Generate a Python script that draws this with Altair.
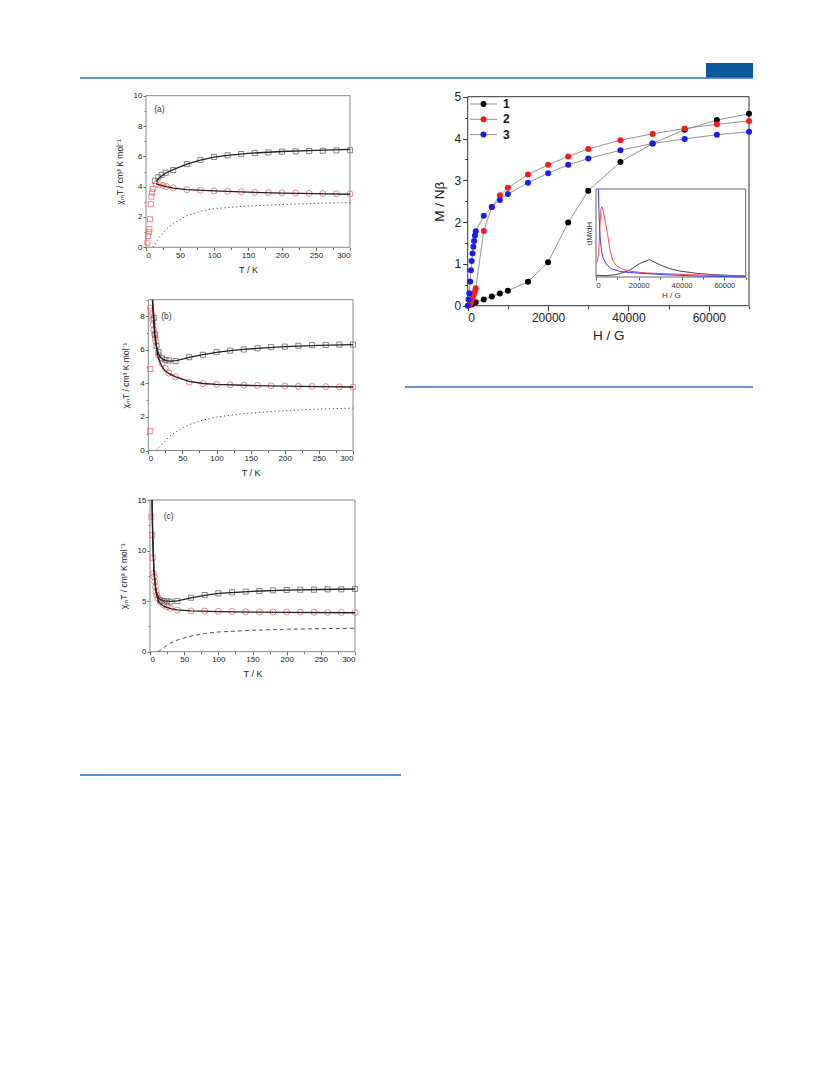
import altair as alt
import pandas as pd

FONT = "Liberation Sans"
W, H = 817, 1075

# ---------------- panel (a) ----------------
a_sq_T = [13, 18, 23, 29, 40, 60, 80, 100, 120, 140, 160, 180, 200, 220, 240, 260, 280, 300]
a_sq_v = [4.39, 4.62, 4.77, 4.92, 5.1, 5.49, 5.76, 5.96, 6.07, 6.15, 6.22, 6.26, 6.31, 6.33, 6.35, 6.37, 6.39, 6.4]
a_rsq_T = [2, 3, 4, 5, 6, 7, 8, 9, 10]
a_rsq_v = [0.3, 0.75, 1.0, 1.2, 1.85, 2.84, 3.34, 3.62, 3.85]
a_ci_T = [15, 20, 25, 30, 40, 60, 80, 100, 120, 140, 160, 180, 200, 220, 240, 260, 280, 300]
a_ci_v = [4.17, 4.13, 4.07, 4.0, 3.92, 3.8, 3.76, 3.72, 3.69, 3.66, 3.63, 3.61, 3.6, 3.58, 3.56, 3.55, 3.53, 3.52]
a_fit1_T = [15, 20, 30, 40, 60, 80, 100, 120, 150, 200, 250, 300]
a_fit1_v = [4.35, 4.6, 4.92, 5.12, 5.48, 5.75, 5.95, 6.07, 6.2, 6.32, 6.4, 6.46]
a_fit2_T = [15, 20, 30, 40, 60, 100, 150, 200, 250, 300]
a_fit2_v = [4.18, 4.12, 4.0, 3.9, 3.8, 3.72, 3.64, 3.58, 3.54, 3.5]
a_dot_T = [10, 15, 20, 30, 40, 60, 80, 100, 140, 200, 250, 300]
a_dot_v = [0, 0.35, 0.68, 1.2, 1.58, 2.08, 2.38, 2.55, 2.7, 2.82, 2.9, 2.95]

# ---------------- panel (b) ----------------
b_sq_T = [8, 10, 12, 15, 20, 25, 30, 40, 60, 80, 100, 120, 140, 160, 180, 200, 220, 240, 260, 280, 300]
b_sq_v = [7.9, 6.9, 6.25, 5.87, 5.5, 5.41, 5.37, 5.34, 5.57, 5.71, 5.87, 5.96, 6.03, 6.1, 6.17, 6.2, 6.25, 6.29, 6.3, 6.32, 6.32]
b_rsq_T = [3, 3]
b_rsq_v = [1.15, 4.87]
b_ci_T = [3, 4, 5, 6, 7, 8, 9, 10, 11, 15, 20, 25, 30, 40, 60, 80, 100, 120, 140, 160, 180, 200, 220, 240, 260, 280, 300]
b_ci_v = [8.5, 8.3, 8.1, 7.8, 7.5, 7.2, 6.95, 6.7, 6.5, 5.7, 5.2, 4.9, 4.62, 4.4, 4.08, 3.99, 3.95, 3.93, 3.9, 3.88, 3.86, 3.85, 3.83, 3.82, 3.81, 3.8, 3.78]
b_fit1_T = [6.3, 7, 8, 9.3, 10, 11.7, 14.7, 18, 22, 27, 32, 41, 60, 80, 100, 120, 140, 200, 250, 300]
b_fit1_v = [9.0, 8.6, 8.0, 7.3, 6.9, 6.3, 5.8, 5.55, 5.42, 5.36, 5.33, 5.37, 5.56, 5.72, 5.86, 5.96, 6.04, 6.2, 6.27, 6.32]
b_fit2_T = [6.0, 7, 8, 9, 10.7, 12, 14.7, 20, 25, 30, 40, 60, 80, 100, 150, 200, 250, 300]
b_fit2_v = [9.0, 8.3, 7.6, 7.0, 6.5, 6.1, 5.5, 5.0, 4.75, 4.6, 4.4, 4.12, 4.0, 3.95, 3.88, 3.84, 3.81, 3.79]
b_dot_T = [12, 20, 30, 40, 60, 80, 100, 140, 200, 250, 300]
b_dot_v = [0, 0.38, 0.8, 1.1, 1.55, 1.82, 2.0, 2.2, 2.38, 2.47, 2.53]

# ---------------- panel (c) ----------------
c_sq_T = [15, 20, 25, 30, 40, 60, 80, 100, 120, 140, 160, 180, 200, 220, 240, 260, 280, 300]
c_sq_v = [5.1, 5.0, 4.97, 4.95, 5.0, 5.34, 5.6, 5.78, 5.87, 5.94, 6.0, 6.07, 6.1, 6.13, 6.13, 6.17, 6.17, 6.2]
c_rsq_T = [2, 3, 4]
c_rsq_v = [13.35, 11.55, 9.3]
c_ci_T = [5, 6, 7, 8, 9, 10, 12, 15, 20, 25, 30, 40, 60, 80, 100, 120, 140, 160, 180, 200, 220, 240, 260, 280, 300]
c_ci_v = [7.75, 7.42, 6.92, 6.43, 5.93, 5.6, 5.3, 4.95, 4.62, 4.45, 4.29, 4.12, 4.03, 4.02, 3.99, 3.96, 3.95, 3.94, 3.93, 3.92, 3.91, 3.9, 3.89, 3.88, 3.87]
c_fit1_T = [3, 3.5, 4, 5, 6, 8, 10, 13, 15, 20, 30, 40, 60, 80, 100, 150, 200, 250, 300]
c_fit1_v = [15, 13.0, 11.5, 9.3, 7.9, 6.5, 5.8, 5.3, 5.15, 5.02, 4.97, 5.02, 5.33, 5.58, 5.76, 5.97, 6.08, 6.15, 6.2]
c_fit2_T = [3, 3.5, 4, 5, 6, 8, 10, 13, 15, 20, 30, 40, 60, 100, 150, 200, 300]
c_fit2_v = [15, 13.0, 11.5, 9.2, 7.7, 6.2, 5.5, 4.95, 4.75, 4.5, 4.25, 4.13, 4.04, 3.97, 3.92, 3.89, 3.85]
c_dash_T = [12, 20, 30, 40, 60, 80, 100, 150, 200, 250, 300]
c_dash_v = [0, 0.4, 0.85, 1.15, 1.55, 1.8, 1.95, 2.12, 2.22, 2.28, 2.32]

# ---------------- magnetization ----------------
series_names = ["1", "2", "3"]
series_colors = ["#000000", "#ff1a1a", "#1a1aff"]
H1 = [1000, 2000, 4000, 6000, 8000, 10000, 15000, 20000, 25000, 30000, 38000, 46000, 54000, 62000, 70000]
M1 = [0.03, 0.08, 0.15, 0.22, 0.29, 0.36, 0.57, 1.04, 1.99, 2.75, 3.44, 3.88, 4.21, 4.44, 4.59]
H2 = [600, 900, 1200, 1500, 1800, 2000, 4000, 6000, 8000, 10000, 15000, 20000, 25000, 30000, 38000, 46000, 54000, 62000, 70000]
M2 = [0.03, 0.1, 0.18, 0.27, 0.34, 0.42, 1.79, 2.36, 2.64, 2.82, 3.14, 3.37, 3.57, 3.75, 3.96, 4.11, 4.24, 4.34, 4.42]
H3 = [0, 200, 400, 600, 800, 1000, 1200, 1400, 1600, 1800, 2000, 4000, 6000, 8000, 10000, 15000, 20000, 25000, 30000, 38000, 46000, 54000, 62000, 70000]
M3 = [0.0, 0.15, 0.3, 0.58, 0.85, 1.07, 1.25, 1.41, 1.55, 1.68, 1.78, 2.15, 2.36, 2.53, 2.67, 2.94, 3.17, 3.37, 3.52, 3.72, 3.88, 3.99, 4.09, 4.16]

# inset dM/dH (arbitrary units)
i1_H = [0, 4700, 9400, 12500, 15660, 20360, 25000, 29750, 34450, 39150, 47000, 54800, 70000]
i1_v = [0.019, 0.015, 0.027, 0.05, 0.076, 0.152, 0.198, 0.14, 0.095, 0.068, 0.042, 0.027, 0.011]
i2_H = [300, 780, 1250, 1880, 2350, 2820, 3440, 4380, 5480, 6580, 7830, 9400, 11740, 15660, 23500, 39150, 54800, 70000]
i2_v = [0.16, 0.19, 0.285, 0.59, 0.78, 0.8, 0.74, 0.63, 0.475, 0.3, 0.19, 0.133, 0.095, 0.065, 0.046, 0.03, 0.019, 0.011]
i3_H = [1100, 1400, 1700, 2100, 2600, 3300, 4700, 7050, 11000, 15700, 31300, 47000, 70000]
i3_v = [1.0, 0.75, 0.55, 0.4, 0.3, 0.22, 0.15, 0.095, 0.065, 0.05, 0.027, 0.011, 0.0]

ytitle = "χₘT / cm³ K mol⁻¹"


def df(**cols):
    return pd.DataFrame(cols)


def chi_panel(label, ymax, ystep, ylab, xr, yr, sq, rsq, ci, f1, f2, dot, dash, lab_pos):
    xs = alt.Scale(domain=[0, 300], range=xr, nice=False, zero=False)
    ys = alt.Scale(domain=[0, ymax], range=yr, nice=False, zero=False)
    nmin = int(round(ymax / ystep))
    xaxis = alt.Axis(orient="bottom", offset=yr[0] - H, values=list(range(0, 301, 25)),
                     labelExpr="datum.value % 50 == 0 ? datum.label : ''",
                     title="T / K", domain=False, grid=False,
                     tickSize={"condition": {"test": "datum.value % 50 == 0", "value": 3}, "value": 2},
                     tickColor="#666", labelFontSize=8, labelColor="#222", labelPadding=1,
                     titleFontSize=9, titleFontWeight="normal", titleColor="#222", titlePadding=6,
                     labelFont=FONT, titleFont=FONT)
    yvals = [round(i * ystep, 3) for i in range(nmin + 1)]
    yaxis = alt.Axis(orient="left", offset=-xr[0], values=yvals,
                     labelExpr=f"datum.value % {ylab} == 0 ? datum.label : ''",
                     title=ytitle, domain=False, grid=False,
                     tickSize={"condition": {"test": f"datum.value % {ylab} == 0", "value": 3}, "value": 2},
                     tickColor="#666", labelFontSize=8, labelColor="#222", labelPadding=1,
                     titleFontSize=8.5, titleFontWeight="normal", titleColor="#222", titlePadding=9,
                     labelFont=FONT, titleFont=FONT)

    def enc(ch, xf="T:Q", yf="v:Q"):
        return ch.encode(x=alt.X(xf, scale=xs, axis=xaxis), y=alt.Y(yf, scale=ys, axis=yaxis))

    frame = alt.Chart(df(x0=[0], x1=[300], y0=[0], y1=[ymax])).mark_rect(
        fill="white", stroke="#888", strokeWidth=1).encode(
        x=alt.X("x0:Q", scale=xs, axis=xaxis), x2="x1", y=alt.Y("y0:Q", scale=ys, axis=yaxis), y2="y1")
    dotline = enc(alt.Chart(df(T=dot[0], v=dot[1])).mark_line(
        color="#555", strokeWidth=1, strokeDash=[4, 3] if dash else [1.3, 2.6]))
    fit1 = enc(alt.Chart(df(T=f1[0], v=f1[1])).mark_line(color="#222", strokeWidth=1.3))
    fit2 = enc(alt.Chart(df(T=f2[0], v=f2[1])).mark_line(color="#222", strokeWidth=1.3))
    squares = enc(alt.Chart(df(T=sq[0], v=sq[1])).mark_point(
        shape="square", filled=False, color="#666", size=26, strokeWidth=0.8, opacity=1))
    rsquares = enc(alt.Chart(df(T=rsq[0], v=rsq[1])).mark_point(
        shape="square", filled=False, color="#f06a6a", size=26, strokeWidth=0.8, opacity=1))
    circles = enc(alt.Chart(df(T=ci[0], v=ci[1])).mark_point(
        shape="circle", filled=False, color="#f06a6a", size=36, strokeWidth=0.8, opacity=1))
    text = alt.Chart(df(T=[lab_pos[0]], v=[lab_pos[1]], s=[label])).mark_text(
        align="left", baseline="middle", fontSize=8.5, font=FONT, color="#333").encode(
        x=alt.X("T:Q", scale=xs, axis=xaxis), y=alt.Y("v:Q", scale=ys, axis=yaxis), text="s:N")
    return alt.layer(frame, dotline, circles, rsquares, squares, fit2, fit1, text)


panel_a = chi_panel("(a)", 10, 1, 2, [138, 342], [239.3, 87.7],
                    (a_sq_T, a_sq_v), (a_rsq_T, a_rsq_v), (a_ci_T, a_ci_v),
                    (a_fit1_T, a_fit1_v), (a_fit2_T, a_fit2_v), (a_dot_T, a_dot_v), False, (12, 9.1))
panel_b = chi_panel("(b)", 9, 1, 2, [140.3, 345], [442.5, 291.7],
                    (b_sq_T, b_sq_v), (b_rsq_T, b_rsq_v), (b_ci_T, b_ci_v),
                    (b_fit1_T, b_fit1_v), (b_fit2_T, b_fit2_v), (b_dot_T, b_dot_v), False, (19, 8.0))
panel_c = chi_panel("(c)", 15, 2.5, 5, [142, 347], [643.7, 492],
                    (c_sq_T, c_sq_v), (c_rsq_T, c_rsq_v), (c_ci_T, c_ci_v),
                    (c_fit1_T, c_fit1_v), (c_fit2_T, c_fit2_v), (c_dash_T, c_dash_v), True, (20, 13.45))

# ---------------- magnetization panel ----------------
mx = alt.Scale(domain=[0, 70000], range=[459.7, 741], nice=False, zero=False)
my = alt.Scale(domain=[0, 5], range=[297.7, 88.7], nice=False, zero=False)
m_xaxis = alt.Axis(orient="bottom", offset=297.7 - H, values=list(range(0, 70001, 10000)),
                   labelExpr="datum.value % 20000 == 0 ? datum.label : ''", format="d",
                   title="H / G", domain=False, grid=False,
                   tickSize={"condition": {"test": "datum.value % 20000 == 0", "value": 5}, "value": 3},
                   tickColor="#333", labelFontSize=12, labelColor="#222", labelPadding=2,
                   titleFontSize=13.5, titleFontWeight="normal", titleColor="#222", titlePadding=5,
                   labelFont=FONT, titleFont=FONT)
m_yaxis = alt.Axis(orient="left", offset=-459.7, values=[i * 0.5 for i in range(11)],
                   labelExpr="datum.value % 1 == 0 ? format(datum.value, 'd') : ''",
                   title="M / Nβ", domain=False, grid=False,
                   tickSize={"condition": {"test": "datum.value % 1 == 0", "value": 5}, "value": 3},
                   tickColor="#333", labelFontSize=12, labelColor="#222", labelPadding=2,
                   titleFontSize=13.5, titleFontWeight="normal", titleColor="#222", titlePadding=8,
                   labelFont=FONT, titleFont=FONT)

mag = pd.concat([
    df(H=H1, M=M1, s=["1"] * len(H1)),
    df(H=H2, M=M2, s=["2"] * len(H2)),
    df(H=H3, M=M3, s=["3"] * len(H3)),
])
mcolor = alt.Scale(domain=series_names, range=series_colors)

m_frame = alt.Chart(df(x0=[0], x1=[70000], y0=[0], y1=[5])).mark_rect(
    fill="white", stroke="#333", strokeWidth=1).encode(
    x=alt.X("x0:Q", scale=mx, axis=m_xaxis), x2="x1", y=alt.Y("y0:Q", scale=my, axis=m_yaxis), y2="y1")
m_lines = alt.Chart(mag).mark_line(color="#888", strokeWidth=0.9).encode(
    x=alt.X("H:Q", scale=mx, axis=m_xaxis), y=alt.Y("M:Q", scale=my, axis=m_yaxis), detail="s:N")
m_points = alt.Chart(mag).mark_circle(size=36, opacity=1).encode(
    x=alt.X("H:Q", scale=mx, axis=m_xaxis), y=alt.Y("M:Q", scale=my, axis=m_yaxis),
    color=alt.Color("s:N", scale=mcolor, legend=None))
mag_panel = alt.layer(m_frame, m_lines, m_points)

# legend (line + dot + bold label), rows placed by a point scale
leg = pd.DataFrame({"s": series_names})
ly = alt.Y("s:N", scale=alt.Scale(type="point", domain=series_names, range=[96, 126.6], padding=0),
           axis=None)
leg_line = alt.Chart(leg).mark_rule(color="#888", strokeWidth=0.9).encode(
    x=alt.value(462), x2=alt.value(489), y=ly)
leg_dot = alt.Chart(leg).mark_circle(size=36, opacity=1).encode(
    x=alt.value(475.5), y=ly, color=alt.Color("s:N", scale=mcolor, legend=None))
leg_text = alt.Chart(leg).mark_text(align="left", baseline="middle", fontSize=12, fontWeight="bold",
                                    font=FONT, color="#111").encode(
    x=alt.value(495), y=ly, text="s:N")
legend_layer = alt.layer(leg_line, leg_dot, leg_text)

# ---------------- inset ----------------
ix = alt.Scale(domain=[0, 70000], range=[588, 737.7], nice=False, zero=False)
iy = alt.Scale(domain=[0, 1], range=[269, 181], nice=False, zero=False)
i_xaxis = alt.Axis(orient="bottom", offset=269 - H, values=list(range(0, 70001, 10000)),
                   labelExpr="datum.value % 20000 == 0 ? datum.label : ''", format="d",
                   title="H / G", domain=False, grid=False, zindex=2,
                   tickSize={"condition": {"test": "datum.value % 20000 == 0", "value": 3}, "value": 2},
                   tickColor="#555", labelFontSize=7.5, labelColor="#333", labelPadding=1,
                   titleFontSize=8, titleFontWeight="normal", titleColor="#333", titlePadding=3,
                   labelFont=FONT, titleFont=FONT)
i_yaxis = alt.Axis(orient="left", offset=-588, values=[0, 1], labels=False, ticks=False,
                   title="dM/dH", domain=False, grid=False, zindex=2,
                   titleFontSize=8, titleFontWeight="normal", titleColor="#333", titlePadding=3,
                   titleFont=FONT)
ins = pd.concat([
    df(H=i1_H, v=i1_v, s=["1"] * len(i1_H)),
    df(H=i2_H, v=i2_v, s=["2"] * len(i2_H)),
    df(H=i3_H, v=i3_v, s=["3"] * len(i3_H)),
])
i_frame = alt.Chart(df(x0=[0], x1=[70000], y0=[0], y1=[1])).mark_rect(
    fill="white", stroke="#666", strokeWidth=1).encode(
    x=alt.X("x0:Q", scale=ix, axis=i_xaxis), x2="x1", y=alt.Y("y0:Q", scale=iy, axis=i_yaxis), y2="y1")
i_lines = alt.Chart(ins).mark_line(strokeWidth=1).encode(
    x=alt.X("H:Q", scale=ix, axis=i_xaxis), y=alt.Y("v:Q", scale=iy, axis=i_yaxis),
    color=alt.Color("s:N", scale=alt.Scale(domain=series_names, range=["#444444", "#ff4a4a", "#3a3aff"]),
                    legend=None))
inset = alt.layer(i_frame, i_lines)

# ---------------- page decoration ----------------
one = pd.DataFrame({"k": [0]})
deco_color = "#2f72b4"
header_line = alt.Chart(one).mark_rule(color=deco_color, strokeWidth=1.6).encode(
    x=alt.value(72), x2=alt.value(745), y=alt.value(70))
header_box = alt.Chart(one).mark_rect(color="#0a5a9c").encode(
    x=alt.value(698), x2=alt.value(745), y=alt.value(55), y2=alt.value(69.5))
rule_right = alt.Chart(one).mark_rule(color=deco_color, strokeWidth=1.6).encode(
    x=alt.value(397), x2=alt.value(745), y=alt.value(379))
rule_left = alt.Chart(one).mark_rule(color=deco_color, strokeWidth=1.6).encode(
    x=alt.value(72), x2=alt.value(393), y=alt.value(767))

chart = alt.layer(
    header_line, header_box, rule_right, rule_left,
    panel_a, panel_b, panel_c, mag_panel, legend_layer, inset
).resolve_scale(
    x="independent", y="independent", color="independent"
).properties(
    width=W, height=H, padding=0,
    autosize=alt.AutoSizeParams(type="none"),
    background="white",
).configure_view(stroke=None)

chart.save("out.html", embed_options={"renderer": "svg", "actions": False})
